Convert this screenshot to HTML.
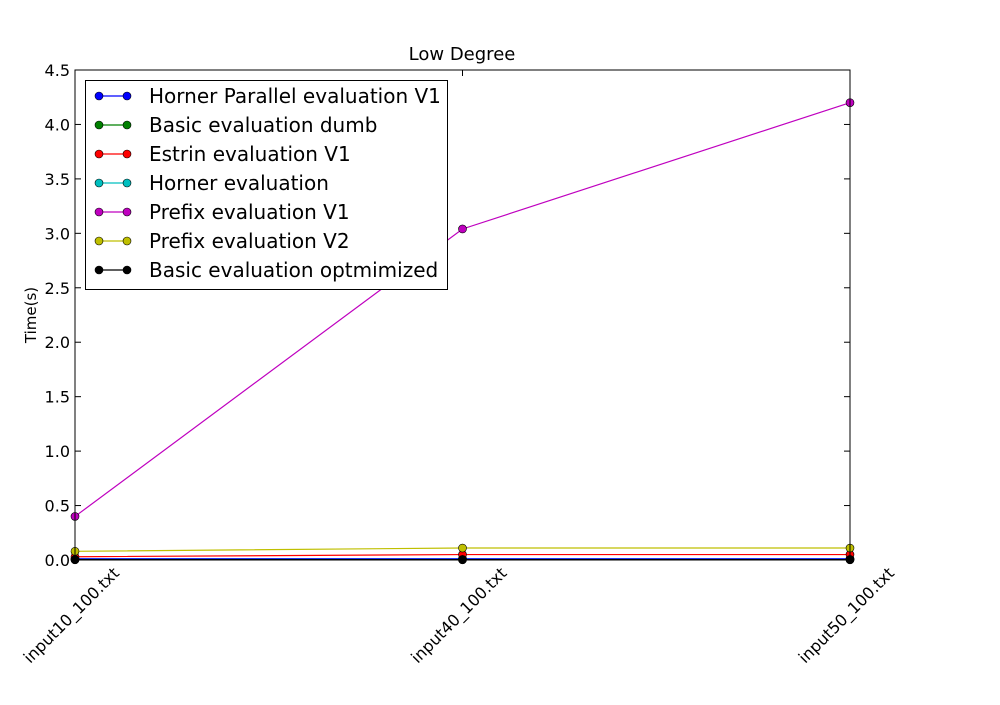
<!DOCTYPE html>
<html><head><meta charset="utf-8"><style>
body{margin:0;background:#fff}
svg{font-family:"DejaVu Sans","Liberation Sans",sans-serif}
</style></head><body>
<svg id="c" width="1000" height="700">
<rect width="1000" height="700" fill="#fff"/>
<text x="462" y="60" text-anchor="middle" font-size="18">Low Degree</text>
<text transform="translate(36,315) rotate(-90)" text-anchor="middle" font-size="15">Time(s)</text>
<g id="g"></g>
</svg>
<script>
const categories=["input10_100.txt","input40_100.txt","input50_100.txt"];
const seriesNames=["Horner Parallel evaluation V1","Basic evaluation dumb","Estrin evaluation V1","Horner evaluation","Prefix evaluation V1","Prefix evaluation V2","Basic evaluation optmimized"];
const colors=["#0000ff","#008000","#ff0000","#00bfbf","#bf00bf","#bfbf00","#000000"];
const hornerPar=[0.012,0.012,0.012];
const basicDumb=[0.002,0.002,0.002];
const estrin=[0.03,0.05,0.05];
const horner=[0.005,0.005,0.005];
const prefixV1=[0.40,3.04,4.20];
const prefixV2=[0.08,0.11,0.11];
const basicOpt=[0.004,0.004,0.004];
const yTicks=[0,0.5,1,1.5,2,2.5,3,3.5,4,4.5];
const series=[hornerPar,basicDumb,estrin,horner,prefixV1,prefixV2,basicOpt];
const L=75,R=850,T=70,B=560,yMax=4.5;
const xs=i=>L+i*(R-L)/(categories.length-1);
const ys=v=>B-v/yMax*(B-T);
const NS="http://www.w3.org/2000/svg";
const g=document.getElementById('g');
function mk(t,a,p){const e=document.createElementNS(NS,t);for(const k in a)e.setAttribute(k,a[k]);(p||g).appendChild(e);return e;}
yTicks.forEach(v=>{
 const y=ys(v);
 const t=mk('line',{x1:L,x2:L+6,y1:y,y2:y,stroke:'#000'});
 
 
 mk('line',{x1:R,x2:R-6,y1:y,y2:y,stroke:'#000'});
 const l=mk('text',{x:L-5,y:y+6,'text-anchor':'end','font-size':16});
 l.textContent=v.toFixed(1);
 
 
});
categories.forEach((c,i)=>{
 const x=xs(i);
 mk('line',{x1:x,x2:x,y1:B,y2:B-6,stroke:'#000'});
 mk('line',{x1:x,x2:x,y1:T,y2:T+6,stroke:'#000'});
 const l=mk('text',{transform:`translate(${x-3},${B+56}) rotate(-45)`,'text-anchor':'middle','font-size':16,'dominant-baseline':'middle'});
 l.textContent=c;
 
 
});
series.forEach((s,k)=>{
 const pl=mk('polyline',{points:s.map((v,i)=>xs(i)+','+ys(v)).join(' '),fill:'none',stroke:colors[k],'stroke-width':1.2});
 
 
 s.forEach((v,i)=>{
  const c=mk('circle',{cx:xs(i),cy:ys(v),r:4,fill:colors[k],stroke:'#000','stroke-width':0.6});
  
  
 });
});
const fr=mk('rect',{x:L,y:T,width:R-L,height:B-T,fill:'none',stroke:'#000'});


const lg=mk('rect',{x:85.5,y:80.5,width:362,height:209,fill:'#fff',stroke:'#000'});


seriesNames.forEach((n,k)=>{
 const y=96+k*29;
 mk('line',{x1:99,x2:127,y1:y,y2:y,stroke:colors[k],'stroke-width':1.2});
 mk('circle',{cx:99,cy:y,r:4,fill:colors[k],stroke:'#000','stroke-width':0.6});
 mk('circle',{cx:127,cy:y,r:4,fill:colors[k],stroke:'#000','stroke-width':0.6});
 const t=mk('text',{x:149,y:y+7,'font-size':20});
 t.textContent=n;
 
 
});
</script>
</body></html>
